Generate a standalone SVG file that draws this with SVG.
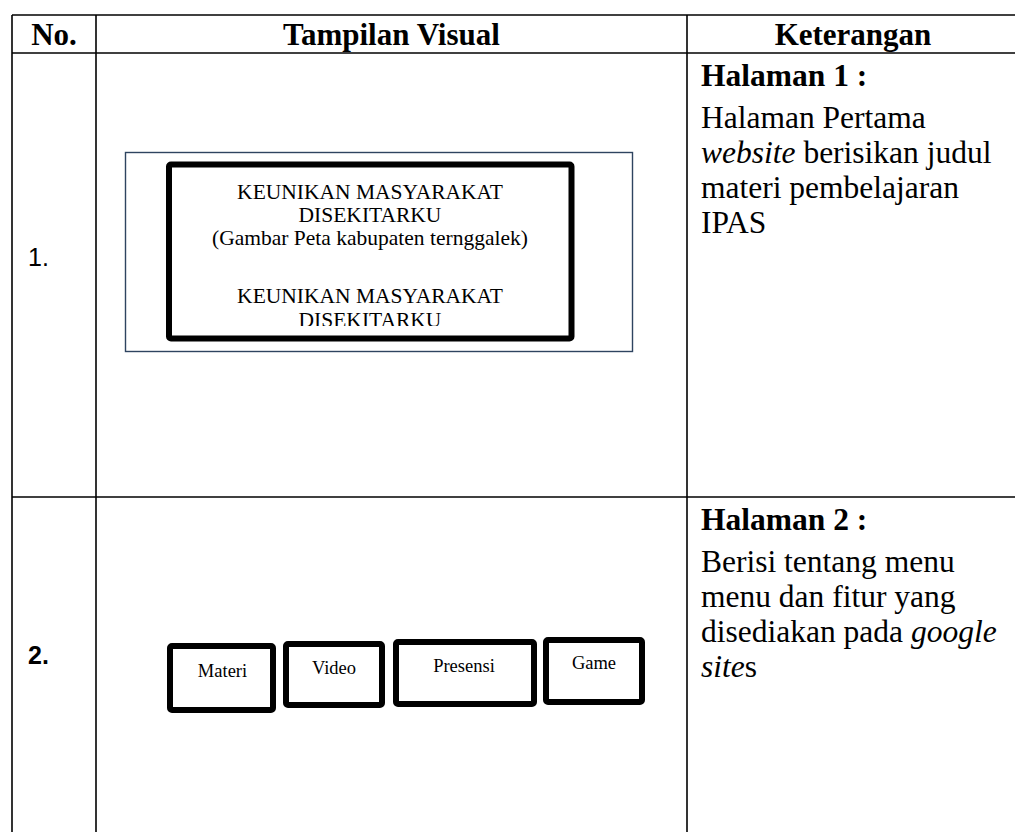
<svg xmlns="http://www.w3.org/2000/svg" width="1015" height="832" viewBox="0 0 1015 832">
<style>
.grid{stroke:#000;stroke-width:1.6;fill:none}
.hd{font-family:"Liberation Serif",serif;font-weight:bold;font-size:31px;fill:#000}
.tx{font-family:"Liberation Serif",serif;font-size:31.5px;fill:#000}
.b{font-weight:bold}
.it{font-style:italic}
.num{font-family:"Liberation Sans",Arial,sans-serif;font-size:25px;fill:#000}
.box{fill:#fff;stroke:#000;stroke-width:6}
.lbl{font-family:"Liberation Serif",serif;font-size:18.5px;fill:#000;text-anchor:middle}
.ttl{font-family:"Liberation Serif",serif;font-size:21.5px;fill:#000;text-anchor:middle}
</style>
<defs>
<clipPath id="innerClip"><rect x="172" y="166" width="396" height="160"/></clipPath>
</defs>
<rect width="1015" height="832" fill="#fff"/>
<g id="table">
<line class="grid" x1="12" y1="15" x2="1015" y2="15"/>
<line class="grid" x1="12" y1="53" x2="1015" y2="53"/>
<line class="grid" x1="12" y1="497" x2="1015" y2="497"/>
<line class="grid" x1="12" y1="15" x2="12" y2="832"/>
<line class="grid" x1="96" y1="15" x2="96" y2="832"/>
<line class="grid" x1="687" y1="15" x2="687" y2="832"/>
</g>
<g id="header">
<text class="hd" x="54" y="45" text-anchor="middle">No.</text>
<text class="hd" x="391.5" y="45" text-anchor="middle">Tampilan Visual</text>
<text class="hd" x="853" y="45" text-anchor="middle">Keterangan</text>
</g>
<g id="row1">
<text class="num" x="28" y="266">1.</text>
<g id="page1">
<rect x="125.5" y="152.5" width="507" height="199" fill="#fff" stroke="#2E4460" stroke-width="1.4"/>
<rect x="169" y="164.5" width="402.5" height="174" rx="2" class="box"/>
<g clip-path="url(#innerClip)">
<text class="ttl" x="370" y="199">KEUNIKAN MASYARAKAT</text>
<text class="ttl" x="370" y="222">DISEKITARKU</text>
<text class="ttl" x="370" y="245">(Gambar Peta kabupaten ternggalek)</text>
<text class="ttl" x="370" y="303">KEUNIKAN MASYARAKAT</text>
<text class="ttl" x="370" y="327">DISEKITARKU</text>
</g>
</g>
<g id="desc1">
<text class="tx b" x="701" y="86">Halaman 1 :</text>
<text class="tx" x="701" y="128">Halaman Pertama</text>
<text class="tx" x="701" y="163"><tspan class="it">website</tspan> berisikan judul</text>
<text class="tx" x="701" y="198">materi pembelajaran</text>
<text class="tx" x="701" y="233">IPAS</text>
</g>
</g>
<g id="row2">
<text class="num b" x="28" y="664">2.</text>
<g id="btn-materi">
<rect class="box" x="170" y="646" width="103" height="64" rx="2"/>
<text class="lbl" x="222.5" y="677">Materi</text>
</g>
<g id="btn-video">
<rect class="box" x="286" y="644" width="96" height="61" rx="2"/>
<text class="lbl" x="334" y="674">Video</text>
</g>
<g id="btn-presensi">
<rect class="box" x="396" y="642" width="138" height="62" rx="2"/>
<text class="lbl" x="464" y="672">Presensi</text>
</g>
<g id="btn-game">
<rect class="box" x="546" y="640" width="96" height="62" rx="2"/>
<text class="lbl" x="594" y="669">Game</text>
</g>
<g id="desc2">
<text class="tx b" x="701" y="530">Halaman 2 :</text>
<text class="tx" x="701" y="572">Berisi tentang menu</text>
<text class="tx" x="701" y="607">menu dan fitur yang</text>
<text class="tx" x="701" y="642">disediakan pada <tspan class="it">google</tspan></text>
<text class="tx" x="701" y="677"><tspan class="it">site</tspan>s</text>
</g>
</g>
<g id="connectors"/>
</svg>
